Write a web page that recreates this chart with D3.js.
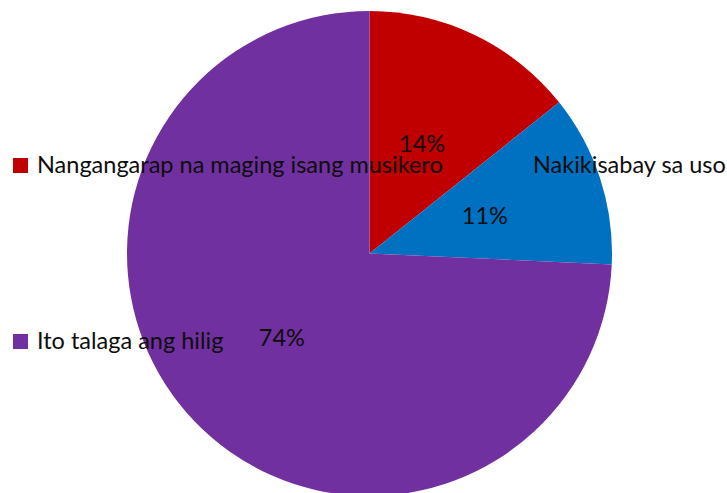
<!DOCTYPE html>
<html><head><meta charset="utf-8">
<script src="https://cdn.jsdelivr.net/npm/d3@7"></script>
<style>body{margin:0;background:#fff}svg{display:block}</style>
</head><body>
<svg id="c" width="727" height="493"></svg>
<script>
const categories = ["Nangangarap na maging isang musikero", "Nakikisabay sa uso", "Ito talaga ang hilig"];
const values = [5, 4, 26];
const colors = ["#C00000", "#0070C0", "#7030A0"];
const pctLabels = ["14%", "11%", "74%"];

const svg = d3.select("#c");
const cx = 369.5, cy = 253.5, r = 242.5;
const font = "Lato, 'Open Sans', sans-serif";
const fs = 23.5;

// legend markers (drawn beneath pie)
const legendPos = [{x:13,y:158,tx:37,ty:173},{x:511,y:158,tx:533,ty:173},{x:13,y:334,tx:37,ty:349}];
svg.selectAll("rect.lg").data(categories).join("rect").attr("class","lg")
  .attr("x",(d,i)=>legendPos[i].x).attr("y",(d,i)=>legendPos[i].y)
  .attr("width",15).attr("height",15).attr("fill",(d,i)=>colors[i]);

const pie = d3.pie().sort(null).value(d=>d)(values);
const arc = d3.arc().innerRadius(0).outerRadius(r);
const g = svg.append("g").attr("transform",`translate(${cx},${cy})`);
g.selectAll("path").data(pie).join("path").attr("d",arc).attr("fill",(d,i)=>colors[i]);

// percent labels
g.selectAll("text.pct").data(pie).join("text").attr("class","pct")
  .attr("x",d=>arc.centroid(d)[0])
  .attr("y",d=>arc.centroid(d)[1])
  .attr("text-anchor","middle").attr("dy","0.35em")
  .attr("font-family",font).attr("font-size",fs).attr("fill","#0d0d0d")
  .text((d,i)=>pctLabels[i]);

// legend text on top
svg.selectAll("text.lg").data(categories).join("text").attr("class","lg")
  .attr("x",(d,i)=>legendPos[i].tx).attr("y",(d,i)=>legendPos[i].ty)
  .attr("font-family",font).attr("font-size",fs).attr("fill","#0d0d0d")
  .text(d=>d);
</script>
</body></html>
